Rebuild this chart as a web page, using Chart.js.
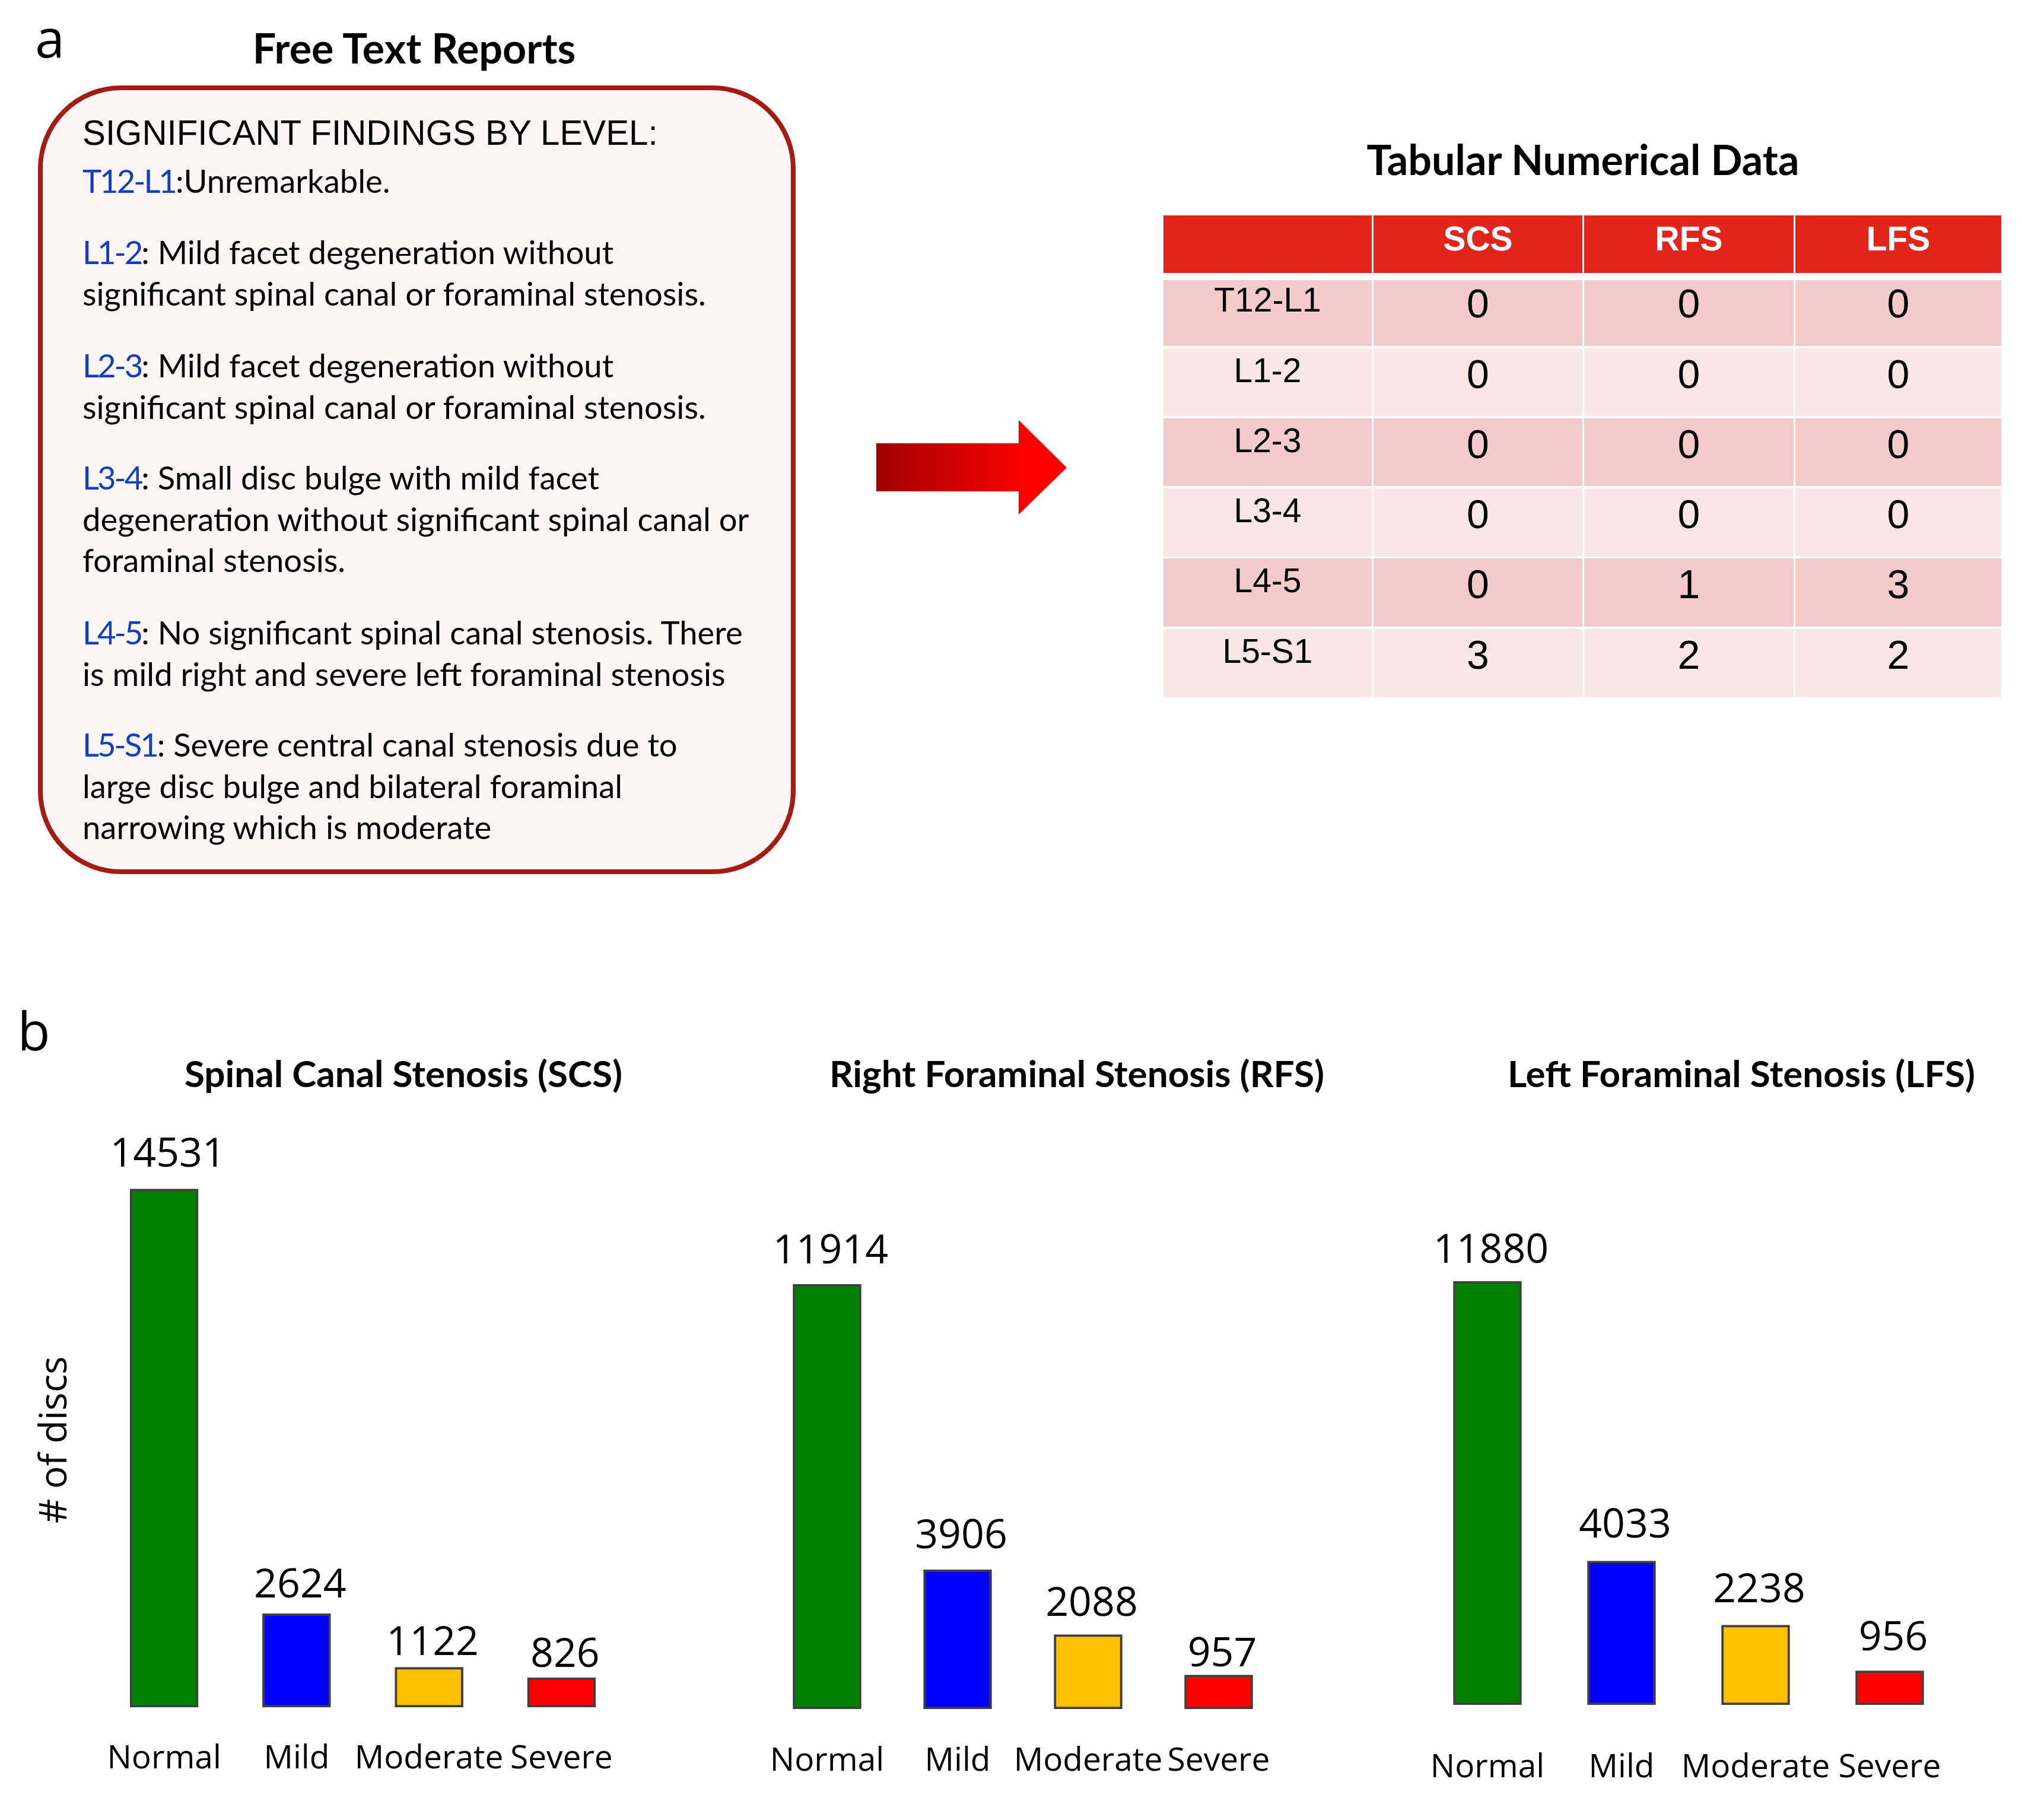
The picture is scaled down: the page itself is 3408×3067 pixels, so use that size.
<!DOCTYPE html>
<html>
<head>
<meta charset="utf-8">
<title>Free text reports to tabular data</title>
<script src="https://cdn.jsdelivr.net/npm/chart.js@4/dist/chart.umd.js"></script>
<style>
  html, body { margin: 0; padding: 0; background: #fff; }
  #page { position: relative; width: 3408px; height: 3067px; overflow: hidden; color: #000; font-family: Lato, sans-serif; }
  #page canvas { position: absolute; }
  .txt { position: absolute; white-space: nowrap; line-height: 1; transform: translate(-50%, -50%); }
  .head { font-weight: 700; font-size: 70px; }
  .sub { font-weight: 700; font-size: 62px; }
  .panel { font-family: "Open Sans", sans-serif; font-size: 90px; }
  #box { position: absolute; left: 64px; top: 144px; width: 1277px; height: 1329px; box-sizing: border-box; border: 8px solid #A61A12; border-radius: 140px; background: #FEF5F6; }
  .line { position: absolute; left: 139px; white-space: nowrap; font-size: 54.4px; line-height: 1; transform: translateY(-50%); }
  .line b { font-weight: 400; color: #0F3FC4; letter-spacing: -3px; }
  .cell { position: absolute; text-align: center; font-family: "Liberation Sans", sans-serif; box-sizing: border-box; }
</style>
</head>
<body>
<div id="page">
  <div class="txt panel" style="left:84px;top:62px">a</div>
  <div class="txt panel" style="left:57px;top:1735px">b</div>
  <div class="txt head" style="left:698px;top:80px">Free Text Reports</div>
  <div class="txt head" style="left:2668px;top:268px">Tabular Numerical Data</div>
  <div class="txt sub" style="left:680px;top:1808px">Spinal Canal Stenosis (SCS)</div>
  <div class="txt sub" style="left:1815px;top:1808px">Right Foraminal Stenosis (RFS)</div>
  <div class="txt sub" style="left:2935px;top:1808px">Left Foraminal Stenosis (LFS)</div>

  <div id="box"></div>
  <div class="line" style="top:224px;font-family:'Liberation Sans',sans-serif;font-size:58.3px">SIGNIFICANT FINDINGS BY LEVEL:</div>
  <div id="report"></div>

  <svg style="position:absolute;left:1477px;top:708px" width="322" height="160">
    <defs>
      <linearGradient id="arrowFill" x1="0" x2="1" y1="0" y2="0">
        <stop offset="0" stop-color="#A00000"/>
        <stop offset="0.8" stop-color="#FF0000"/>
      </linearGradient>
    </defs>
    <polygon points="0,39 240,39 240,0 321,80 240,159 240,120 0,120" fill="url(#arrowFill)"/>
  </svg>

  <div id="table"></div>

  <canvas id="scsChart"></canvas>
  <canvas id="rfsChart"></canvas>
  <canvas id="lfsChart"></canvas>
</div>

<script>
// bar chart data
const severityLabels = ["Normal", "Mild", "Moderate", "Severe"];
const scsCounts = [14531, 2624, 1122, 826];
const rfsCounts = [11914, 3906, 2088, 957];
const lfsCounts = [11880, 4033, 2238, 956];
const severityColors = ["#008000", "#0000FF", "#FFC000", "#FF0000"];

// table data
const tableColumns = ["", "SCS", "RFS", "LFS"];
const discLevels = ["T12-L1", "L1-2", "L2-3", "L3-4", "L4-5", "L5-S1"];
const scsGrades = [0, 0, 0, 0, 0, 3];
const rfsGrades = [0, 0, 0, 0, 1, 2];
const lfsGrades = [0, 0, 0, 0, 3, 2];

// report text, one entry per paragraph
const reportLevels = ["T12-L1", "L1-2", "L2-3", "L3-4", "L4-5", "L5-S1"];
const reportLines = [
  [":Unremarkable."],
  [": Mild facet degeneration without", "significant spinal canal or foraminal stenosis."],
  [": Mild facet degeneration without", "significant spinal canal or foraminal stenosis."],
  [": Small disc bulge with mild facet", "degeneration without significant spinal canal or", "foraminal stenosis."],
  [": No significant spinal canal stenosis. There", "is mild right and severe left foraminal stenosis"],
  [": Severe central canal stenosis due to", "large disc bulge and bilateral foraminal", "narrowing which is moderate"]
];
const paragraphTops = [304, 424, 615, 804, 1065, 1254];
const lineStep = 69.6;

const report = document.getElementById("report");
reportLines.forEach((lines, p) => {
  lines.forEach((text, i) => {
    const line = document.createElement("div");
    line.className = "line";
    line.style.top = paragraphTops[p] + i * lineStep + "px";
    if (i === 0) {
      const level = document.createElement("b");
      level.textContent = reportLevels[p];
      line.appendChild(level);
    }
    line.appendChild(document.createTextNode(text));
    report.appendChild(line);
  });
});

// table layout
const colEdges = [[1961, 2312], [2315, 2667], [2670, 3023], [3026, 3373]];
const rowEdges = [[363, 460], [472, 583], [587, 701], [705, 819], [823, 938], [941, 1056], [1060, 1175]];

function addCell(col, row, text, background, color, fontSize, weight, padTop) {
  const cell = document.createElement("div");
  cell.className = "cell";
  cell.style.left = colEdges[col][0] + "px";
  cell.style.width = colEdges[col][1] - colEdges[col][0] + "px";
  cell.style.top = rowEdges[row][0] + "px";
  cell.style.height = rowEdges[row][1] - rowEdges[row][0] + "px";
  cell.style.background = background;
  cell.style.color = color;
  cell.style.fontSize = fontSize + "px";
  cell.style.fontWeight = weight;
  cell.style.lineHeight = fontSize + "px";
  cell.style.paddingTop = padTop + "px";
  cell.textContent = text;
  document.getElementById("table").appendChild(cell);
}

tableColumns.forEach((name, c) => addCell(c, 0, name, "#E3241B", "#fff", 57, 700, 11));
discLevels.forEach((level, r) => {
  const shade = r % 2 === 0 ? "#F3CBCB" : "#F9E7E6";
  const nudge = r === 0 ? 0 : 4;
  addCell(0, r + 1, level, shade, "#000", 57, 400, 5 + nudge);
  addCell(1, r + 1, scsGrades[r], shade, "#000", 68, 400, 5 + nudge);
  addCell(2, r + 1, rfsGrades[r], shade, "#000", 68, 400, 5 + nudge);
  addCell(3, r + 1, lfsGrades[r], shade, "#000", 68, 400, 5 + nudge);
});

// value labels above the bars
const valueLabels = {
  id: "valueLabels",
  afterDatasetsDraw(chart, args, opts) {
    const ctx = chart.ctx;
    const meta = chart.getDatasetMeta(0);
    ctx.save();
    ctx.font = "68px 'Open Sans', sans-serif";
    ctx.fillStyle = "#000";
    ctx.textAlign = "center";
    ctx.textBaseline = "alphabetic";
    meta.data.forEach((bar, i) => {
      ctx.fillText(chart.data.datasets[0].data[i], bar.x + 6, bar.y - opts.gaps[i]);
    });
    ctx.restore();
  }
};

const canvasTop = 1900;
const canvasBottom = 3067;
const yMax = 15000;
const pxPerDisc = 0.0601;

function drawBars(id, values, plotLeft, plotRight, baseline, tickGap, gaps, yTitle) {
  const canvas = document.getElementById(id);
  const canvasLeft = plotLeft - 161;
  canvas.style.left = canvasLeft + "px";
  canvas.style.top = canvasTop + "px";
  canvas.width = plotRight - canvasLeft;
  canvas.height = canvasBottom - canvasTop;
  new Chart(canvas, {
    type: "bar",
    data: {
      labels: severityLabels,
      datasets: [{
        data: values,
        backgroundColor: severityColors,
        borderColor: "#3F3F3F",
        borderWidth: 4,
        borderSkipped: false,
        barThickness: 115
      }]
    },
    options: {
      responsive: false,
      animation: false,
      devicePixelRatio: 1,
      layout: {
        padding: { top: baseline - yMax * pxPerDisc - canvasTop, right: 0, left: 0, bottom: 0 }
      },
      plugins: {
        legend: { display: false },
        tooltip: { enabled: false },
        valueLabels: { gaps: gaps }
      },
      scales: {
        x: {
          grid: { display: false, tickLength: tickGap },
          border: { display: false },
          ticks: { color: "#000", padding: 0, maxRotation: 0, autoSkip: false, font: { family: "'Open Sans', sans-serif", size: 55 } },
          afterFit(scale) { scale.height = canvasBottom - baseline; }
        },
        y: {
          min: 0,
          max: yMax,
          grid: { display: false },
          border: { display: false },
          ticks: { display: false },
          title: {
            display: !!yTitle,
            text: yTitle,
            color: "#000",
            padding: { top: 51, bottom: 0 },
            font: { family: "'Open Sans', sans-serif", size: 64 }
          },
          afterFit(scale) { scale.width = 161; }
        }
      }
    },
    plugins: [valueLabels]
  });
}

drawBars("scsChart", scsCounts, 165, 1058, 2877, 54, [38, 27, 21, 18], "# of discs");
drawBars("rfsChart", rfsCounts, 1284, 2164, 2880, 55, [35, 36, 32, 14], "");
drawBars("lfsChart", lfsCounts, 2394, 3298, 2873, 73, [31, 40, 38, 35], "");
</script>
</body>
</html>
